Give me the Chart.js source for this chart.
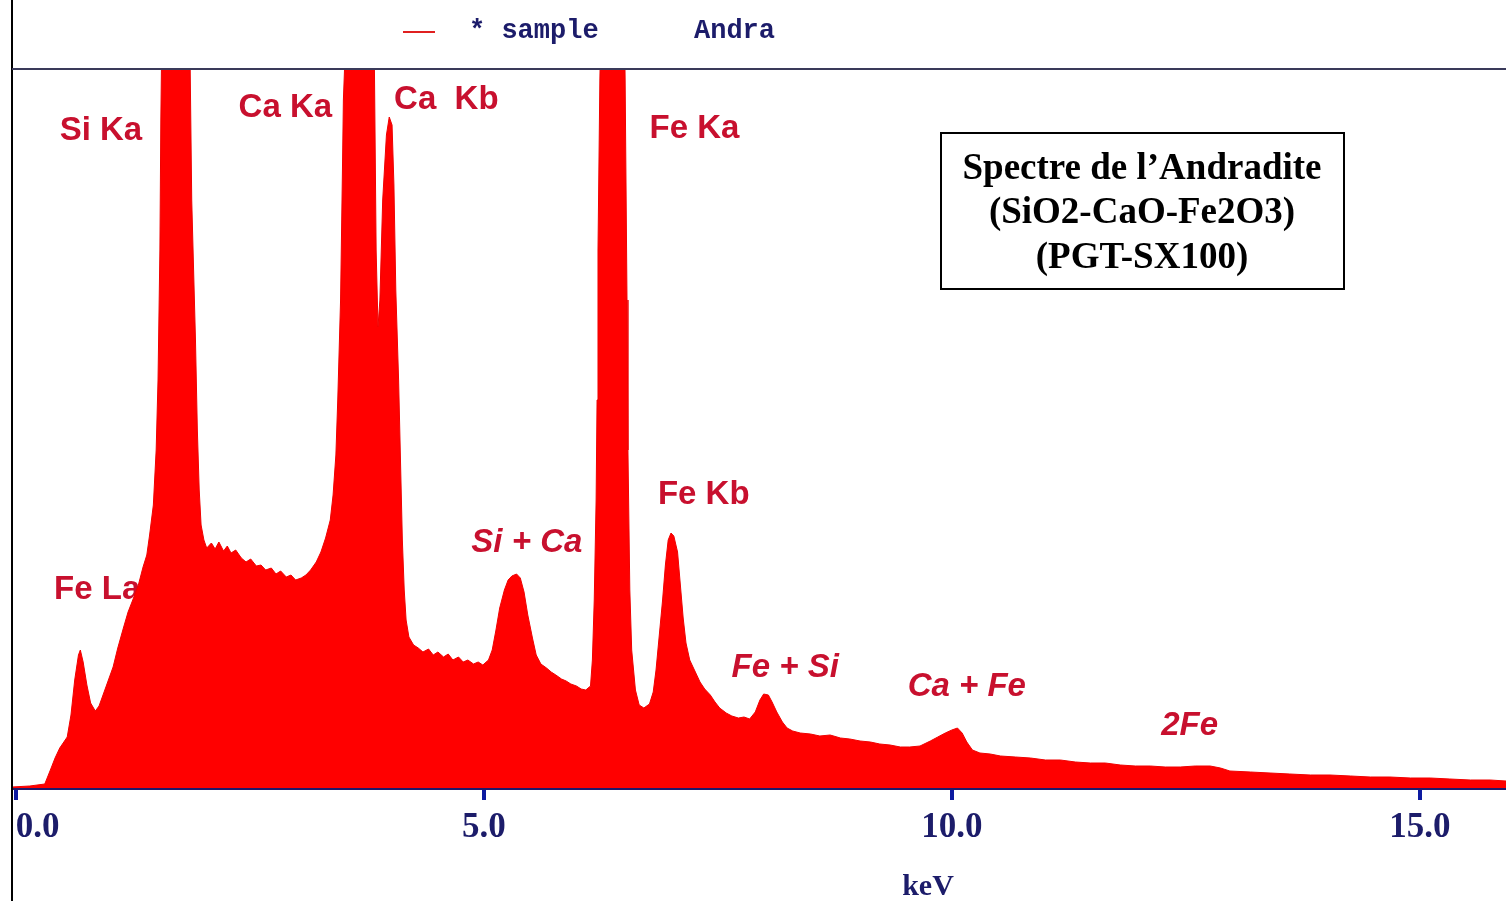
<!DOCTYPE html>
<html>
<head>
<meta charset="utf-8">
<title>Spectre de l'Andradite</title>
<script src="https://cdn.jsdelivr.net/npm/chart.js@4/dist/chart.umd.min.js"></script>
<style>
  body { margin: 0; background: #ffffff; }
  canvas { display: block; }
</style>
</head>
<body>
<canvas id="spectre" width="1506" height="901"></canvas>
<script>
var energie = [
    -0.04, 0.15, 0.31, 0.37, 0.42, 0.47, 0.55, 0.59, 0.63, 0.67,
    0.69, 0.72, 0.76, 0.80, 0.85, 0.89, 0.94, 0.99, 1.04, 1.09,
    1.15, 1.20, 1.25, 1.31, 1.36, 1.40, 1.43, 1.47, 1.50, 1.52,
    1.54, 1.55, 1.56, 1.71, 1.86, 1.88, 1.92, 1.94, 1.96, 1.98,
    2.01, 2.04, 2.09, 2.13, 2.17, 2.22, 2.26, 2.30, 2.35, 2.41,
    2.46, 2.51, 2.57, 2.62, 2.67, 2.73, 2.78, 2.83, 2.89, 2.94,
    2.99, 3.05, 3.10, 3.15, 3.21, 3.26, 3.31, 3.36, 3.39, 3.42,
    3.44, 3.47, 3.49, 3.50, 3.52, 3.69, 3.83, 3.84, 3.85, 3.87,
    3.89, 3.92, 3.96, 3.99, 4.02, 4.04, 4.06, 4.09, 4.11, 4.13,
    4.15, 4.17, 4.20, 4.25, 4.30, 4.35, 4.41, 4.46, 4.51, 4.57,
    4.62, 4.67, 4.73, 4.78, 4.83, 4.89, 4.94, 4.99, 5.05, 5.09,
    5.13, 5.17, 5.22, 5.26, 5.30, 5.35, 5.39, 5.43, 5.47, 5.52,
    5.56, 5.61, 5.67, 5.72, 5.77, 5.83, 5.88, 5.93, 5.99, 6.04,
    6.09, 6.14, 6.16, 6.18, 6.20, 6.21, 6.22, 6.24, 6.40, 6.51,
    6.53, 6.54, 6.56, 6.58, 6.62, 6.66, 6.71, 6.77, 6.81, 6.84,
    6.87, 6.91, 6.94, 6.97, 7.00, 7.03, 7.07, 7.10, 7.13, 7.16,
    7.20, 7.26, 7.31, 7.36, 7.42, 7.47, 7.52, 7.59, 7.65, 7.72,
    7.78, 7.84, 7.90, 7.95, 7.99, 8.04, 8.08, 8.13, 8.19, 8.24,
    8.30, 8.38, 8.49, 8.59, 8.70, 8.81, 8.91, 9.02, 9.13, 9.23,
    9.34, 9.45, 9.55, 9.66, 9.77, 9.85, 9.93, 10.00, 10.06, 10.11,
    10.16, 10.22, 10.30, 10.41, 10.52, 10.68, 10.84, 11.00, 11.16, 11.32,
    11.48, 11.64, 11.80, 11.96, 12.12, 12.28, 12.44, 12.60, 12.76, 12.87,
    12.97, 13.19, 13.40, 13.61, 13.83, 14.04, 14.26, 14.47, 14.68, 14.90,
    15.11, 15.32, 15.54, 15.75, 15.92
];
var comptages = [
    1, 2, 4, 18, 30, 40, 51, 73, 108, 133,
    138, 126, 103, 85, 77, 82, 95, 108, 121, 140,
    160, 176, 188, 203, 221, 233, 253, 283, 338, 408,
    538, 668, 748, 1200, 748, 588, 448, 358, 298, 263,
    248, 240, 245, 239, 246, 237, 242, 235, 238, 230,
    226, 229, 222, 223, 218, 220, 214, 217, 211, 213,
    208, 210, 213, 218, 226, 236, 250, 268, 293, 333,
    388, 488, 618, 688, 738, 1100, 738, 638, 538, 461,
    488, 588, 653, 671, 663, 603, 498, 408, 328, 248,
    198, 168, 151, 143, 140, 136, 139, 133, 136, 131,
    134, 128, 131, 126, 128, 124, 126, 123, 128, 138,
    158, 180, 198, 208, 212, 214, 210, 196, 173, 150,
    133, 124, 120, 116, 113, 109, 107, 104, 102, 99,
    98, 102, 128, 188, 288, 388, 538, 708, 1500, 708,
    488, 338, 198, 138, 98, 83, 80, 84, 96, 118,
    148, 188, 223, 248, 255, 252, 236, 203, 170, 145,
    128, 116, 106, 99, 93, 86, 80, 75, 72, 70,
    71, 69, 76, 88, 94, 93, 86, 76, 66, 60,
    57, 55, 54, 52, 53, 50, 49, 47, 46, 44,
    43, 41, 41, 42, 47, 51, 55, 58, 60, 55,
    46, 38, 35, 34, 32, 31, 30, 28, 28, 26,
    25, 25, 23, 22, 22, 21, 21, 22, 22, 20,
    17, 16, 15, 14, 13, 13, 12, 11, 11, 10,
    10, 9, 8, 8, 7
];
var graduations = [0, 5, 10, 15];

// noms des raies et leur place (keV, comptages)
var raies = ['Si Ka', 'Ca Ka', 'Ca  Kb', 'Fe Ka', 'Fe Kb', 'Fe La', 'Si + Ca', 'Fe + Si', 'Ca + Fe', '2Fe'];
var raiesKeV = [0.91, 2.88, 4.60, 7.25, 7.35, 0.87, 5.46, 8.22, 10.16, 12.54];
var raiesCpt = [657, 680, 688, 659, 293, 198, 245, 120, 101, 62];
var raiesItalique = [false, false, false, false, false, false, true, true, true, true];

var titreCadre = ['Spectre de l\u2019Andradite', '(SiO2-CaO-Fe2O3)', '(PGT-SX100)'];

var bleu = '#1c1c6a';

var decor = {
    id: 'decor',
    beforeDatasetsDraw: function (chart) {
        var ctx = chart.ctx;
        var x = chart.scales.x, y = chart.scales.y;
        ctx.save();
        ctx.fillStyle = '#c8102e';
        ctx.textAlign = 'center';
        ctx.textBaseline = 'middle';
        raies.forEach(function (nom, i) {
            ctx.font = (raiesItalique[i] ? 'italic ' : '') + 'bold 33px "Liberation Sans", Arial, sans-serif';
            ctx.fillText(nom, x.getPixelForValue(raiesKeV[i]), y.getPixelForValue(raiesCpt[i]));
        });
        ctx.restore();
    },
    afterDraw: function (chart) {
        var ctx = chart.ctx;
        var area = chart.chartArea;
        ctx.save();
        // cadre: trait gauche et ligne du haut
        ctx.strokeStyle = '#000000';
        ctx.lineWidth = 2;
        ctx.beginPath();
        ctx.moveTo(12, 0);
        ctx.lineTo(12, chart.height);
        ctx.stroke();
        ctx.strokeStyle = '#3a3a5a';
        ctx.beginPath();
        ctx.moveTo(area.left, area.top);
        ctx.lineTo(area.right, area.top);
        ctx.stroke();

        // legende
        ctx.strokeStyle = '#e02020';
        ctx.beginPath();
        ctx.moveTo(403, 32);
        ctx.lineTo(435, 32);
        ctx.stroke();
        ctx.fillStyle = bleu;
        ctx.font = 'bold 27px "Liberation Mono", monospace';
        ctx.textBaseline = 'alphabetic';
        ctx.textAlign = 'left';
        ctx.fillText('* sample', 469, 38);
        ctx.fillText('Andra', 694, 38);

        // titre de l'axe
        ctx.font = 'bold 30px "Liberation Serif", serif';
        ctx.textAlign = 'center';
        ctx.textBaseline = 'middle';
        ctx.fillText('keV', 928, 887);

        // cadre du titre
        ctx.fillStyle = '#ffffff';
        ctx.fillRect(940, 132, 404, 157);
        ctx.strokeStyle = '#000000';
        ctx.lineWidth = 2;
        ctx.strokeRect(941, 133, 403, 156);
        ctx.fillStyle = '#000000';
        ctx.font = 'bold 37px "Liberation Serif", "Times New Roman", serif';
        titreCadre.forEach(function (ligne, i) {
            ctx.fillText(ligne, 1142, 169 + i * 44.5);
        });
        ctx.restore();
    }
};

var chart = new Chart(document.getElementById('spectre'), {
    type: 'line',
    data: {
        datasets: [{
            label: 'sample',
            data: energie.map(function (e, i) { return { x: e, y: comptages[i] }; }),
            fill: 'origin',
            backgroundColor: '#ff0000',
            borderColor: '#f00000',
            borderWidth: 1,
            pointRadius: 0,
            tension: 0
        }]
    },
    options: {
        responsive: false,
        animation: false,
        layout: { padding: { left: 12, right: 0, top: 69, bottom: 0 } },
        plugins: {
            legend: { display: false },
            tooltip: { enabled: false }
        },
        scales: {
            x: {
                type: 'linear',
                min: -0.04,
                max: 15.92,
                afterBuildTicks: function (axis) {
                    axis.ticks = graduations.map(function (v) { return { value: v }; });
                },
                afterFit: function (axis) {
                    axis.height = 113;
                    axis.paddingLeft = 0;
                    axis.paddingRight = 0;
                },
                border: { display: true, color: '#22186a', width: 3 },
                grid: {
                    drawOnChartArea: false,
                    drawTicks: true,
                    tickLength: 12,
                    color: '#0d1aa0',
                    lineWidth: 4
                },
                ticks: {
                    autoSkip: false,
                    maxRotation: 0,
                    padding: 7,
                    color: bleu,
                    font: { family: '"Liberation Serif", serif', size: 35, weight: 'bold' },
                    callback: function (v) {
                        return v === 0 ? '\u2007\u2007 0.0' : v.toFixed(1);
                    }
                }
            },
            y: {
                display: false,
                min: 0,
                max: 719
            }
        }
    },
    plugins: [decor]
});
</script>
</body>
</html>
